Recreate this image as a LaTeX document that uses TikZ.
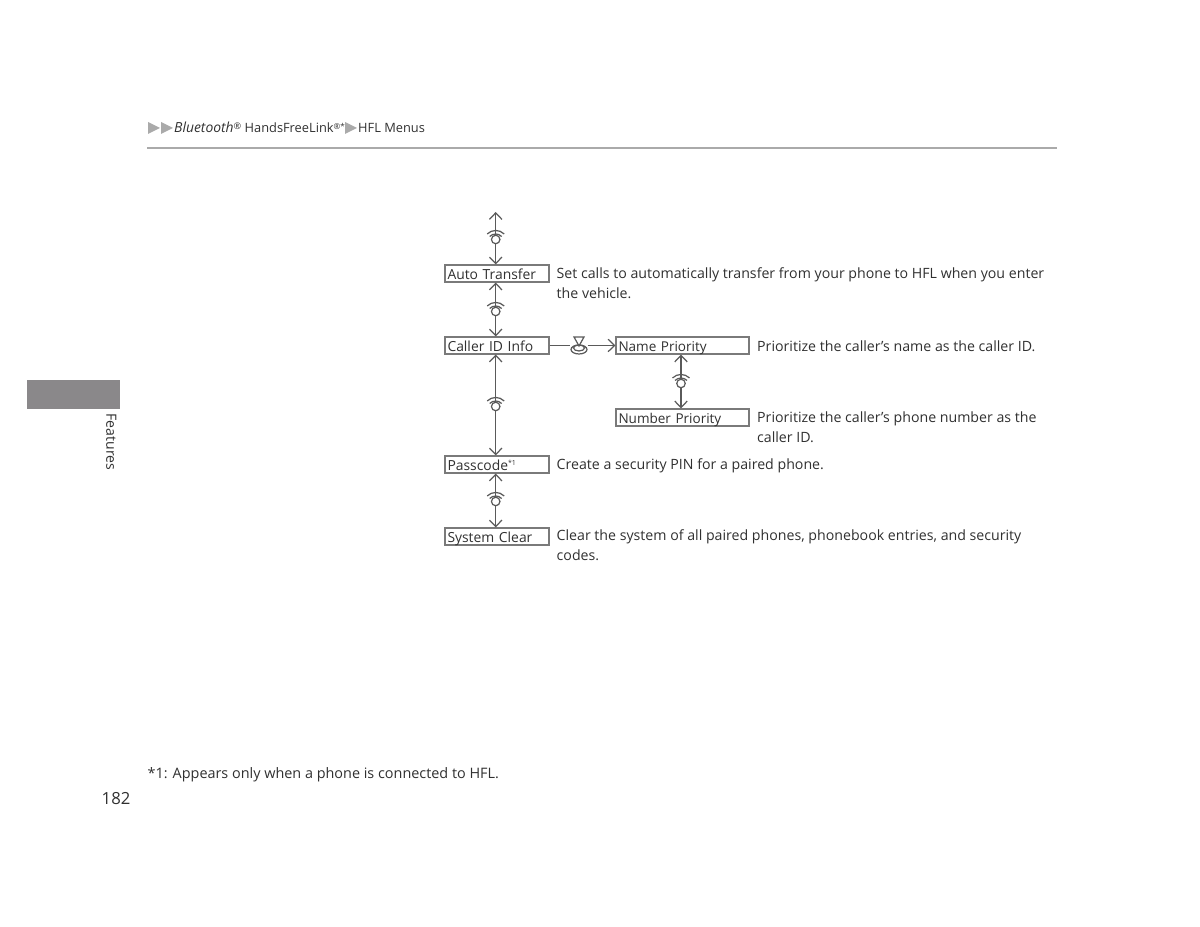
\documentclass[tikz,border=0pt]{standalone}
\usepackage{fontspec}
\setmainfont{Open Sans}
\usetikzlibrary{positioning, arrows.meta, calc, shapes.geometric}

\definecolor{inkgray}{HTML}{303030}
\definecolor{linegray}{HTML}{5A5A5A}
\definecolor{boxgray}{HTML}{7A7A7A}
\definecolor{tabgray}{HTML}{8A888A}
\definecolor{rulegray}{HTML}{AAAAAA}

\begin{document}
\begin{tikzpicture}[
    >={Straight Barb[length=0.65mm, width=1.25mm]},
    every node/.style={font=\fontsize{4.03}{5.69}\selectfont, text=inkgray},
    menubox/.style={
        draw=boxgray, line width=0.3pt, minimum height=0.17cm, inner ysep=0pt,
        inner xsep=0.025cm, text height=0.125cm, text depth=0.01cm, align=left
    },
    shortbox/.style={menubox, text width=0.99cm, font=\fontsize{3.95}{5.69}\selectfont},
    longbox/.style={menubox, text width=1.28cm, font=\fontsize{3.85}{5.69}\selectfont},
    note/.style={anchor=north west, inner sep=0pt, align=left},
    knob/.style={circle, draw=linegray, line width=0.35pt, minimum size=0.085cm, inner sep=0pt},
    press/.style={inner sep=0pt, minimum width=0.16cm, minimum height=0.16cm},
    link/.style={->, draw=linegray, line width=0.35pt},
    plain/.style={-, draw=linegray, line width=0.35pt},
    crumb/.style={fill=rulegray, draw=none},
]
\useasboundingbox (0,0) rectangle (12,9.27);

% header
\fill[crumb] (1.48,8.05) -- (1.60,7.99) -- (1.48,7.93) -- cycle;
\fill[crumb] (1.61,8.05) -- (1.73,7.99) -- (1.61,7.93) -- cycle;
\node[anchor=base west, inner sep=0pt, font=\fontsize{3.65}{5}\selectfont] (crumbtext) at (1.735,7.94)
    {{\fontsize{3.95}{5}\selectfont\textit{Bluetooth}}\raisebox{0.3mm}{\fontsize{2.6}{3}\selectfont ®} HandsFreeLink\raisebox{0.3mm}{\fontsize{2.3}{3}\selectfont ®*}};
\fill[crumb] (3.45,8.05) -- (3.57,7.99) -- (3.45,7.93) -- cycle;
\node[anchor=base west, inner sep=0pt, font=\fontsize{3.65}{5}\selectfont] (crumbend) at (3.575,7.94) {HFL Menus};
\draw[rulegray, line width=0.45pt] (1.47,7.79) -- (10.57,7.79);

% side tab
\fill[tabgray] (0.27,5.18) rectangle (1.20,5.47);
\node[rotate=-90, anchor=north west, inner sep=0pt, font=\fontsize{4}{5}\selectfont] (sidetext) at (1.17,5.14) {Features};

% main menu column
\node[shortbox] (autotransfer) at (4.97,6.535) {Auto Transfer};
\node[shortbox] (callerid)     at (4.97,5.815) {Caller ID Info};
\node[shortbox] (passcode)     at (4.97,4.625) {Passcode\raisebox{0.5mm}{\fontsize{2}{2}\selectfont *1}};
\node[shortbox] (sysclear)     at (4.97,3.905) {System Clear};

% sub menu column
\node[longbox] (namepri) at (6.825,5.815) {Name Priority};
\node[longbox] (numpri)  at (6.825,5.095) {Number Priority};

% descriptions
\node[note] (autotext) at (5.56,6.60)
    {Set calls to automatically transfer from your phone to HFL when you enter\\the vehicle.};
\node[note] (nametext) at (7.565,5.87) {Prioritize the caller’s name as the caller ID.};
\node[note] (numtext)  at (7.565,5.16) {Prioritize the caller’s phone number as the\\caller ID.};
\node[note] (passtext) at (5.56,4.69) {Create a security PIN for a paired phone.};
\node[note] (cleartext) at (5.56,3.98)
    {Clear the system of all paired phones, phonebook entries, and security\\codes.};

% scroll knobs
\node[knob] (knoba) at (4.957,6.875) {};
\node[knob] (knobb) at (4.957,6.155) {};
\node[knob] (knobc) at (4.957,5.205) {};
\node[knob] (knobd) at (4.957,4.255) {};
\node[knob] (knobe) at (6.81,5.435)  {};
\coordinate (topend) at (4.957,7.15);

\foreach \k in {knoba,knobb,knobc,knobd,knobe} {
    \draw[plain] ($(\k.center)+(-0.085,0.055)$) to[bend left=45] ($(\k.center)+(0.085,0.055)$);
    \draw[plain] ($(\k.center)+(-0.06,0.03)$) to[bend left=45] ($(\k.center)+(0.06,0.03)$);
}

% scroll arrows
\draw[link] (knoba.north) -- (topend);
\draw[link] (knoba.south) -- (autotransfer.north -| knoba);
\draw[link] (knobb.north) -- (autotransfer.south -| knobb);
\draw[link] (knobb.south) -- (callerid.north -| knobb);
\draw[link] (knobc.north) -- (callerid.south -| knobc);
\draw[link] (knobc.south) -- (passcode.north -| knobc);
\draw[link] (knobd.north) -- (passcode.south -| knobd);
\draw[link] (knobd.south) -- (sysclear.north -| knobd);
\draw[link] (knobe.north) -- (namepri.south -| knobe);
\draw[link] (knobe.south) -- (numpri.north -| knobe);

% press icon
\node[press] (pressicon) at (5.79,5.815) {};
\draw[plain] ($(pressicon.center)+(-0.05,0.085)$) -- ($(pressicon.center)+(0.05,0.085)$)
    -- ($(pressicon.center)+(0,-0.005)$) -- cycle;
\draw[plain] ($(pressicon.center)+(0,-0.025)$) ellipse [x radius=0.055, y radius=0.03];
\draw[plain] ($(pressicon.center)+(0,-0.04)$) ellipse [x radius=0.08, y radius=0.045];
\draw[plain] (callerid.east) -- (pressicon.west);
\draw[link] (pressicon.east) -- (namepri.west);

% footer
\node[anchor=base west, inner sep=0pt, font=\fontsize{4.1}{6}\selectfont] (footnote) at (1.47,1.48) {*1: Appears only when a phone is connected to HFL.};
\node[anchor=base west, inner sep=0pt, font=\fontsize{4.75}{6}\selectfont] (pagenum) at (1.01,1.22) {182};

\end{tikzpicture}
\end{document}
